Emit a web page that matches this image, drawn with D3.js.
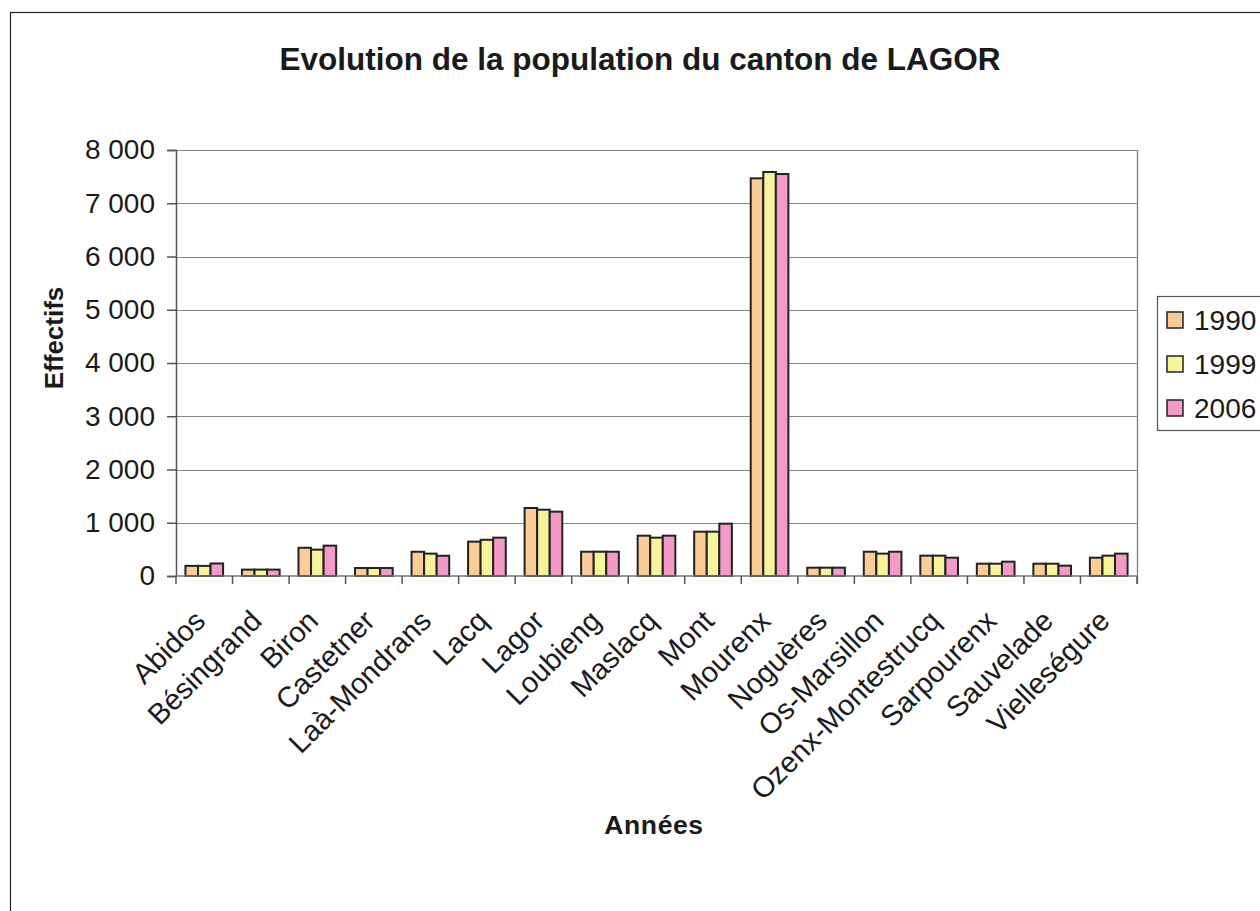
<!DOCTYPE html>
<html>
<head>
<meta charset="utf-8">
<script src="https://cdn.jsdelivr.net/npm/d3@7"></script>
<style>
  body { margin: 0; background: #fff; }
  svg text { font-family: "Liberation Sans", Arial, sans-serif; fill: #1a1a1a; }
</style>
</head>
<body>
<div id="chart"></div>
<script>
const communes = [
  "Abidos", "Bésingrand", "Biron", "Castetner", "Laà-Mondrans", "Lacq",
  "Lagor", "Loubieng", "Maslacq", "Mont", "Mourenx", "Noguères",
  "Os-Marsillon", "Ozenx-Montestrucq", "Sarpourenx", "Sauvelade", "Vielleségure"
];
const years = ["1990", "1999", "2006"];
const pop1990 = [190, 120, 530, 150, 455, 645, 1277, 456, 757, 832, 7468, 156, 456, 382, 231, 231, 344];
const pop1999 = [190, 120, 495, 150, 420, 680, 1245, 456, 720, 832, 7587, 156, 420, 382, 231, 231, 382];
const pop2006 = [235, 120, 570, 150, 380, 720, 1208, 456, 757, 982, 7549, 156, 456, 344, 269, 194, 420];
const yTicks = [0, 1000, 2000, 3000, 4000, 5000, 6000, 7000, 8000];
const colours = ["#fbcb98", "#f6f39a", "#f39bc6"];

const W = 1260, H = 911;
const plot = { left: 176, right: 1137, top: 150, bottom: 576 };

const rows = communes.map((c, i) => ({
  name: c,
  values: [pop1990[i], pop1999[i], pop2006[i]]
}));

const svg = d3.select("#chart").append("svg")
  .attr("width", W)
  .attr("height", H);

// outer frame
svg.append("rect")
  .attr("x", 10.5).attr("y", 12.5)
  .attr("width", W + 20).attr("height", H + 20)
  .attr("fill", "none")
  .attr("stroke", "#222")
  .attr("stroke-width", 1.2);

const x0 = d3.scaleBand()
  .domain(communes)
  .range([plot.left, plot.right])
  .paddingInner(0)
  .paddingOuter(0);
const bw = x0.bandwidth();
const barW = bw / 4.5;
const x1 = d3.scaleBand()
  .domain(years)
  .range([0.75 * barW, 3.75 * barW])
  .padding(0);

const y = d3.scaleLinear()
  .domain([0, 8000])
  .range([plot.bottom, plot.top]);

const fr = d3.formatLocale({ decimal: ",", thousands: " ", grouping: [3], currency: ["", " €"] });
const fmt = fr.format(",");

// gridlines
svg.append("g")
  .selectAll("line")
  .data(yTicks.filter(d => d > 0))
  .join("line")
  .attr("x1", plot.left).attr("x2", plot.right)
  .attr("y1", d => Math.round(y(d)) + 0.5).attr("y2", d => Math.round(y(d)) + 0.5)
  .attr("stroke", "#8a8a8a")
  .attr("stroke-width", 1.2);

// right plot border
svg.append("line")
  .attr("x1", plot.right + 0.5).attr("x2", plot.right + 0.5)
  .attr("y1", plot.top).attr("y2", plot.bottom + 8)
  .attr("stroke", "#8a8a8a")
  .attr("stroke-width", 1.5);

// y axis
const yAxis = d3.axisLeft(y)
  .tickValues(yTicks)
  .tickSize(9)
  .tickPadding(12)
  .tickFormat(fmt);
const gY = svg.append("g")
  .attr("transform", `translate(${plot.left},0)`)
  .call(yAxis);
gY.select(".domain").attr("stroke", "#555").attr("stroke-width", 1.5);
gY.selectAll(".tick line").attr("stroke", "#555").attr("stroke-width", 1.5);
gY.selectAll(".tick text")
  .attr("font-size", 28)
  .attr("fill", "#1a1a1a")
  .style("font-family", "'Liberation Sans', Arial, sans-serif");

// bars
const groups = svg.append("g")
  .selectAll("g")
  .data(rows)
  .join("g")
  .attr("transform", d => `translate(${x0(d.name)},0)`);

groups.selectAll("rect")
  .data(d => d.values.map((v, i) => ({ year: years[i], value: v, i })))
  .join("rect")
  .attr("x", d => x1(d.year))
  .attr("y", d => y(d.value))
  .attr("width", x1.bandwidth())
  .attr("height", d => plot.bottom - y(d.value))
  .attr("fill", d => colours[d.i])
  .attr("stroke", "#222")
  .attr("stroke-width", 2);

// x axis baseline + ticks between categories
svg.append("line")
  .attr("x1", plot.left).attr("x2", plot.right)
  .attr("y1", plot.bottom).attr("y2", plot.bottom)
  .attr("stroke", "#777")
  .attr("stroke-width", 1.5);
svg.append("g")
  .selectAll("line")
  .data(communes.concat(["__end"]))
  .join("line")
  .attr("x1", (d, i) => plot.left + i * bw)
  .attr("x2", (d, i) => plot.left + i * bw)
  .attr("y1", plot.bottom)
  .attr("y2", plot.bottom + 8)
  .attr("stroke", "#555")
  .attr("stroke-width", 1.5);

// category labels
svg.append("g")
  .selectAll("text")
  .data(communes)
  .join("text")
  .attr("transform", d => `translate(${x0(d) + bw / 2 - 12},608) rotate(-45)`)
  .attr("text-anchor", "end")
  .attr("dy", "0.716em")
  .attr("font-size", 29)
  .text(d => d);

// title
svg.append("text")
  .attr("x", 640).attr("y", 70)
  .attr("text-anchor", "middle")
  .attr("font-size", 31.5)
  .attr("font-weight", "bold")
  .text("Evolution de la population du canton de LAGOR");

// axis titles
svg.append("text")
  .attr("transform", "translate(63,338) rotate(-90)")
  .attr("text-anchor", "middle")
  .attr("font-size", 26)
  .attr("font-weight", "bold")
  .text("Effectifs");

svg.append("text")
  .attr("x", 654).attr("y", 834)
  .attr("text-anchor", "middle")
  .attr("font-size", 26.5)
  .attr("font-weight", "bold")
  .attr("letter-spacing", 0.6)
  .text("Années");

// legend
const legend = svg.append("g");
legend.append("rect")
  .attr("x", 1157.5).attr("y", 296.5)
  .attr("width", 130).attr("height", 134)
  .attr("fill", "#fff")
  .attr("stroke", "#555")
  .attr("stroke-width", 1.2);
const items = legend.selectAll("g.item")
  .data(years)
  .join("g")
  .attr("class", "item")
  .attr("transform", (d, i) => `translate(0,${320 + i * 44})`);
items.append("rect")
  .attr("x", 1167).attr("y", -8)
  .attr("width", 16).attr("height", 16)
  .attr("fill", (d, i) => colours[i])
  .attr("stroke", "#222")
  .attr("stroke-width", 1.5);
items.append("text")
  .attr("x", 1194).attr("y", 0)
  .attr("dy", "0.36em")
  .attr("font-size", 28)
  .text(d => d);
</script>
</body>
</html>
